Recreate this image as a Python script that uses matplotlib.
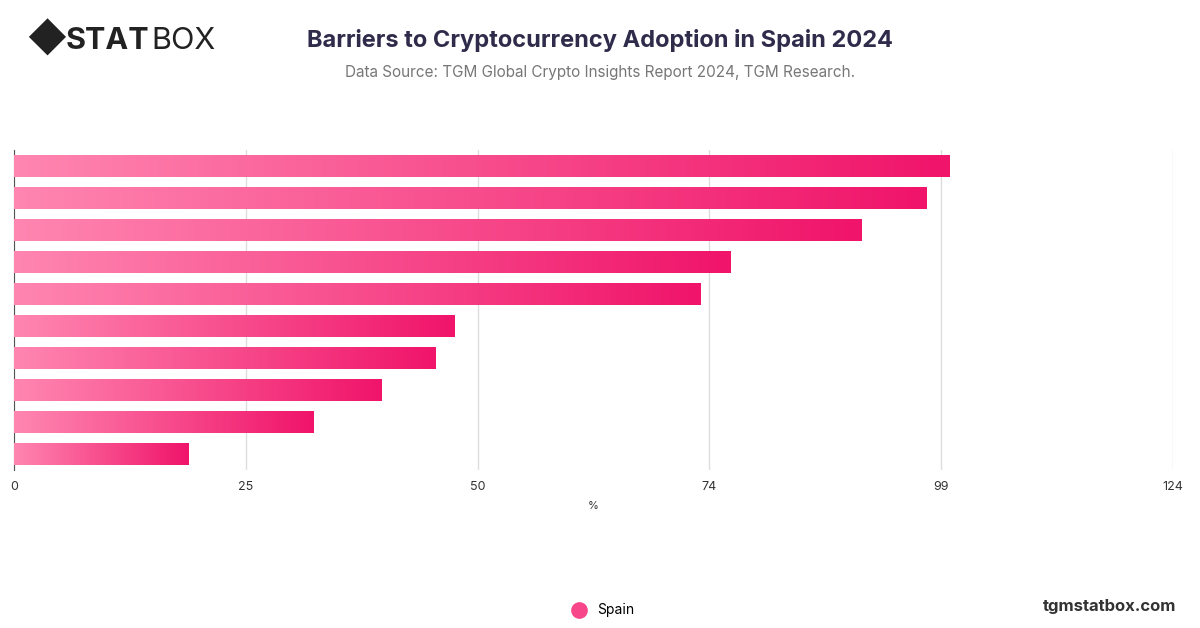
import numpy as np
import matplotlib
matplotlib.use("Agg")
import matplotlib.pyplot as plt
from matplotlib.colors import LinearSegmentedColormap
from matplotlib.lines import Line2D

plt.rcParams["font.family"] = ["Inter", "DejaVu Sans"]

# values (categories are not labelled in the source)
values = [100.1, 97.6, 90.7, 76.7, 73.4, 47.1, 45.1, 39.3, 32.0, 18.7]
tick_pos = [0, 24.8, 49.6, 74.4, 99.2, 124]
tick_labels = ["0", "25", "50", "74", "99", "124"]
series_name = "Spain"

cmap = LinearSegmentedColormap.from_list("pink", ["#ff86b0", "#f0146a"])

fig = plt.figure(figsize=(12, 6.28), dpi=100)
ax = fig.add_axes([14 / 1200, 1 - 470 / 628, (1173 - 14) / 1200, (470 - 150) / 628])

y = np.arange(len(values))
bars = ax.barh(y, values, height=0.68, color="none", zorder=3)
grad = np.linspace(0, 1, 256).reshape(1, -1)
for b in bars:
    x0, yb = b.get_x(), b.get_y()
    w, h = b.get_width(), b.get_height()
    im = ax.imshow(grad, cmap=cmap, aspect="auto", extent=[x0, x0 + w, yb, yb + h],
                   zorder=3, interpolation="bicubic")
    im.set_clip_path(b)

ax.set_xlim(0, 124)
ax.set_ylim(len(values) - 0.5, -0.5)
ax.set_xticks(tick_pos)
ax.set_xticklabels(tick_labels, fontsize=9, color="#333333")
ax.set_yticks([])
ax.tick_params(axis="x", length=0, pad=8)
ax.grid(axis="x", color="#dddddd", linewidth=1, zorder=0)
for s in ["top", "right", "bottom"]:
    ax.spines[s].set_visible(False)
ax.spines["left"].set_color("#555555")
ax.set_xlabel("%", fontsize=8, color="#333333", labelpad=6)

fig.text(0.5, 0.935, "Barriers to Cryptocurrency Adoption in Spain 2024", ha="center",
         va="center", fontsize=17, fontweight="bold", color="#2f2b4a")
fig.text(0.5, 0.885, "Data Source: TGM Global Crypto Insights Report 2024, TGM Research.",
         ha="center", va="center", fontsize=11, color="#777777")

# logo
fig.text(0.022, 0.935, "\u25C6", fontsize=28, color="#222222", va="center")
fig.text(0.055, 0.935, "STAT", fontsize=22, fontweight="bold", color="#222222", va="center")
fig.text(0.126, 0.935, "BOX", fontsize=22, color="#222222", va="center")

fig.text(0.98, 0.035, "tgmstatbox.com", ha="right", va="center", fontsize=12,
         fontweight="bold", color="#333333")

handle = Line2D([], [], marker="o", linestyle="none", markersize=11,
                markerfacecolor="#f8468a", markeredgecolor="#f8468a")
fig.legend([handle], [series_name], loc="center", bbox_to_anchor=(0.5, 0.028),
           frameon=False, fontsize=10, handletextpad=0.3)

fig.savefig("out.png")
